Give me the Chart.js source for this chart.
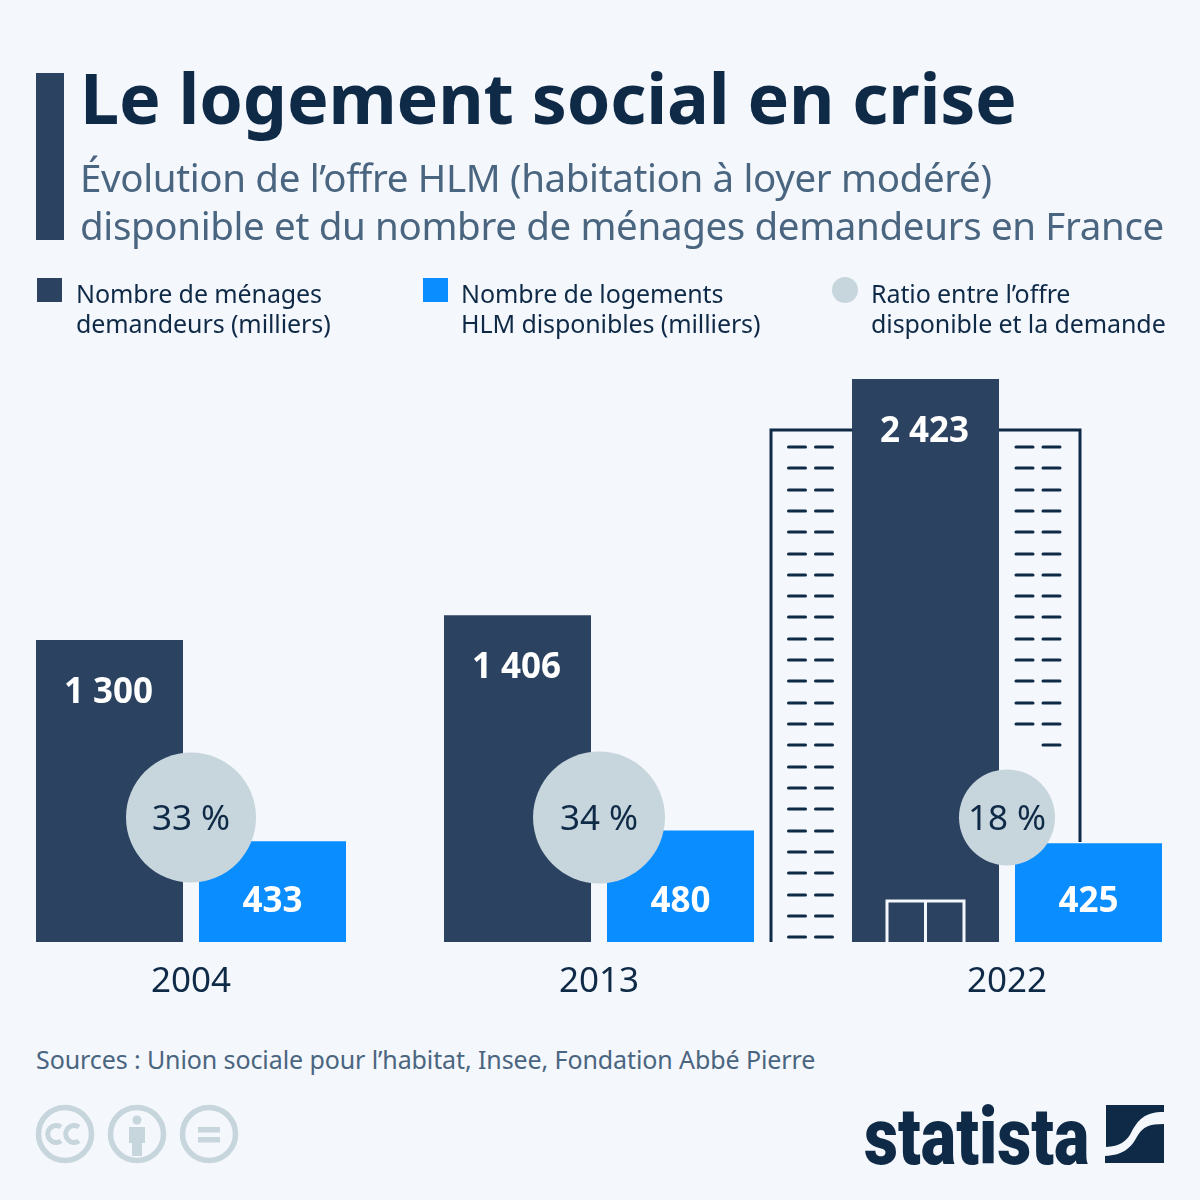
<!DOCTYPE html>
<html lang="fr">
<head>
<meta charset="utf-8">
<title>Le logement social en crise</title>
<script src="https://cdn.jsdelivr.net/npm/chart.js@4/dist/chart.umd.min.js"></script>
<style>
  html, body { margin: 0; padding: 0; background: #f4f7fb; }
  #page { position: relative; width: 1200px; height: 1200px; overflow: hidden; background: #f4f7fb; font-family: "Noto Sans", sans-serif; color: #0f2a47; }
  #page > * { position: absolute; }
  #chart { left: -13px; top: 0; }
  .accent { left: 36px; top: 73px; width: 28px; height: 167px; background: #2b4361; }
  h1 { left: 80px; top: 49px; margin: 0; font-size: 70px; line-height: 96px; font-weight: 700; white-space: nowrap; letter-spacing: -0.18px; }
  h2 { left: 80px; top: 153px; margin: 0; font-size: 38.5px; line-height: 48px; font-weight: 400; color: #4a6580; white-space: nowrap; letter-spacing: -0.36px; }
  .swatch { width: 25px; height: 24px; top: 278px; }
  .legend { top: 278px; font-size: 25px; line-height: 30px; white-space: pre; letter-spacing: -0.1px; }
  .sources { left: 36px; top: 1042px; font-size: 25px; line-height: 34px; color: #4a6580; white-space: nowrap; letter-spacing: -0.1px; }
  .brand { left: 864px; top: 1092px; font-family: Roboto, sans-serif; font-weight: 900; font-size: 80px; line-height: 90px; transform-origin: left top; transform: scaleX(0.83); white-space: nowrap; }
</style>
</head>
<body>
<div id="page">
  <canvas id="chart" width="1224" height="1000" style="width:1224px;height:1000px"></canvas>
  <div class="accent"></div>
  <h1>Le logement social en crise</h1>
  <h2>Évolution de l’offre HLM (habitation à loyer modéré)<br>disponible et du nombre de ménages demandeurs en France</h2>

  <div class="swatch" style="left:37px;background:#2b4361"></div>
  <div class="legend" style="left:76px" id="legend0"></div>
  <div class="swatch" style="left:423px;background:#0a8dff"></div>
  <div class="legend" style="left:461px" id="legend1"></div>
  <div class="swatch" style="left:832px;width:26px;height:26px;top:277px;border-radius:50%;background:#c7d5dd"></div>
  <div class="legend" style="left:871px" id="legend2"></div>

  <div class="sources">Sources : Union sociale pour l’habitat, Insee, Fondation Abbé Pierre</div>

  <svg style="left:30px;top:1100px" width="215" height="70" viewBox="0 0 215 70" fill="none" stroke="#c7d5dd" stroke-width="5.5">
    <circle cx="35" cy="34" r="26.5"/>
    <path d="M31 27a8.5 8.5 0 1 0 0 14M49 27a8.5 8.5 0 1 0 0 14" stroke-width="5"/>
    <circle cx="107" cy="34" r="26.5"/>
    <circle cx="107" cy="20" r="4.5" fill="#c7d5dd" stroke="none"/>
    <path d="M99 27h16v16h-3v13h-10v-13h-3z" fill="#c7d5dd" stroke="none"/>
    <circle cx="179" cy="34" r="26.5"/>
    <path d="M168 27h22v5.5h-22zM168 37h22v5.5h-22z" fill="#c7d5dd" stroke="none"/>
  </svg>

  <div class="brand">statista</div>
  <svg style="left:1105px;top:1105px" width="59" height="58" viewBox="0 0 59 58">
    <path fill="#0f2a47" d="M1 0h58v7c-20 0-26 8-33 21-5 9-11 13-25 14z"/>
    <path fill="#0f2a47" d="M59 19v39H0v-7c19-1 26-8 33-21 5-8 11-11 26-11z"/>
  </svg>
</div>

<script>
const years = ["2004", "2013", "2022"];
const demandeurs = [1300, 1406, 2423];
const logements = [433, 480, 425];
const ratios = [33, 34, 18];

const legendLabels = [
  "Nombre de ménages\ndemandeurs (milliers)",
  "Nombre de logements\nHLM disponibles (milliers)",
  "Ratio entre l’offre\ndisponible et la demande",
];
legendLabels.forEach((t, i) => {
  document.getElementById("legend" + i).textContent = t;
});

const NAVY = "#2b4361";
const BLUE = "#0a8dff";
const GREY = "#c7d5dd";
const INK = "#0f2a47";
const PAPER = "#f4f7fb";

// circles sit on one common height, only the area follows the ratio
const RATIO_HEIGHT = 536;
const RATIO_AREA = 128;

const fmt = (v) => String(v).replace(/\B(?=(\d{3})+$)/g, "\u00a0");

// tower behind the 2022 bars
const towerPlugin = {
  id: "tower",
  beforeDatasetsDraw(chart) {
    const { ctx, scales } = chart;
    const cx = scales.x.getPixelForValue(2);
    const base = scales.y.getPixelForValue(0);
    ctx.save();
    ctx.strokeStyle = INK;
    ctx.lineWidth = 3;
    ctx.beginPath();
    ctx.moveTo(cx - 236, base);
    ctx.lineTo(cx - 236, base - 512);
    ctx.lineTo(cx + 73, base - 512);
    ctx.lineTo(cx + 73, base - 100);
    ctx.stroke();
    ctx.lineCap = "round";
    for (let r = 0; r < 24; r++) {
      const y = Math.round(base - 495 + r * 21.31);
      ctx.beginPath();
      ctx.moveTo(cx - 218.5, y);
      ctx.lineTo(cx - 201.5, y);
      ctx.moveTo(cx - 191.5, y);
      ctx.lineTo(cx - 174.5, y);
      if (r < 14) {
        ctx.moveTo(cx + 9, y);
        ctx.lineTo(cx + 26, y);
      }
      if (r < 15) {
        ctx.moveTo(cx + 36, y);
        ctx.lineTo(cx + 53, y);
      }
      ctx.stroke();
    }
    ctx.restore();
  },
  afterDatasetsDraw(chart) {
    const { ctx, scales } = chart;
    const cx = scales.x.getPixelForValue(2);
    const base = scales.y.getPixelForValue(0);
    ctx.save();
    ctx.strokeStyle = PAPER;
    ctx.lineWidth = 3;
    ctx.beginPath();
    ctx.moveTo(cx - 120, base);
    ctx.lineTo(cx - 120, base - 41);
    ctx.lineTo(cx - 43, base - 41);
    ctx.lineTo(cx - 43, base);
    ctx.moveTo(cx - 81.5, base - 41);
    ctx.lineTo(cx - 81.5, base);
    ctx.stroke();
    ctx.restore();
  },
};

// value labels inside the bars and ratio labels inside the circles
const labelPlugin = {
  id: "labels",
  afterDraw(chart) {
    const { ctx } = chart;
    const base = chart.scales.y.getPixelForValue(0);
    ctx.save();
    ctx.textAlign = "center";
    ctx.textBaseline = "middle";
    ctx.font = "700 35px 'Noto Sans'";
    ctx.fillStyle = "#ffffff";
    chart.getDatasetMeta(0).data.forEach((bar, i) => {
      ctx.fillText(fmt(demandeurs[i]), bar.x - 1, bar.y + 53);
    });
    chart.getDatasetMeta(1).data.forEach((bar, i) => {
      ctx.fillText(fmt(logements[i]), bar.x, base - 40);
    });
    ctx.font = "400 35px 'Noto Sans'";
    ctx.fillStyle = INK;
    chart.getDatasetMeta(2).data.forEach((pt, i) => {
      ctx.fillText(ratios[i] + " %", pt.x, pt.y + 3);
    });
    ctx.restore();
  },
};

new Chart(document.getElementById("chart"), {
  type: "bar",
  data: {
    labels: years,
    datasets: [
      {
        label: "Nombre de ménages demandeurs (milliers)",
        data: demandeurs,
        backgroundColor: NAVY,
        order: 1,
      },
      {
        label: "Nombre de logements HLM disponibles (milliers)",
        data: logements,
        backgroundColor: BLUE,
        order: 1,
      },
      {
        type: "bubble",
        label: "Ratio entre l’offre disponible et la demande",
        data: years.map((y, i) => ({ x: y, y: RATIO_HEIGHT, r: Math.sqrt(RATIO_AREA * ratios[i]) })),
        backgroundColor: GREY,
        borderWidth: 0,
        hoverBorderWidth: 0,
        order: 0,
      },
    ],
  },
  options: {
    responsive: false,
    animation: false,
    devicePixelRatio: 1,
    categoryPercentage: 0.799,
    barPercentage: 0.9018,
    layout: { autoPadding: false, padding: { top: 361, left: 0, right: 0, bottom: 0 } },
    plugins: { legend: { display: false }, tooltip: { enabled: false } },
    scales: {
      x: {
        grid: { display: false, drawTicks: false },
        border: { display: false },
        ticks: {
          color: INK,
          font: { family: "Noto Sans", size: 35 },
          padding: 19,
          maxRotation: 0,
        },
        afterFit(scale) {
          scale.height = 58;
          scale.paddingLeft = 0;
          scale.paddingRight = 0;
        },
      },
      y: { display: false, min: 0, max: 2500 },
    },
  },
  plugins: [towerPlugin, labelPlugin],
});
</script>
</body>
</html>
